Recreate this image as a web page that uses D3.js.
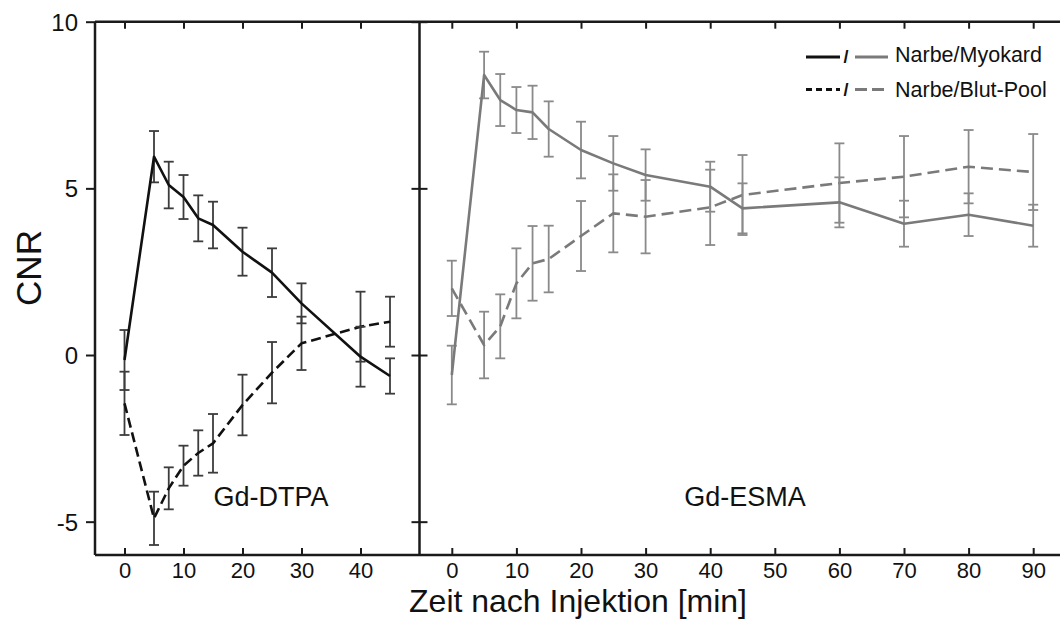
<!DOCTYPE html>
<html>
<head>
<meta charset="utf-8">
<script src="https://cdn.jsdelivr.net/npm/d3@7"></script>
<style>
  body { margin: 0; background: #fff; }
  svg { display: block; font-family: "Liberation Sans", Arial, Helvetica, sans-serif; }
  text { fill: #111; }
</style>
</head>
<body>
<svg id="chart" width="1060" height="621"></svg>
<script>
// time points (min)
var timeL = [0, 5, 7.5, 10, 12.5, 15, 20, 25, 30, 40, 45];
var timeR = [0, 5, 7.5, 10, 12.5, 15, 20, 25, 30, 40, 45, 60, 70, 80, 90];

// Gd-DTPA: Narbe/Myokard and Narbe/Blut-Pool (mean, sd)
var dtpaMyo = [-0.15, 5.95, 5.1, 4.74, 4.1, 3.9, 3.1, 2.47, 1.55, -0.05, -0.63];
var dtpaMyoErr = [0.9, 0.77, 0.7, 0.66, 0.69, 0.7, 0.72, 0.73, 0.6, 0.9, 0.53];
var dtpaPool = [-1.45, -4.9, -4.0, -3.32, -2.94, -2.65, -1.5, -0.53, 0.35, 0.85, 1.0];
var dtpaPoolErr = [0.95, 0.8, 0.63, 0.6, 0.68, 0.88, 0.91, 0.92, 0.8, 1.05, 0.75];

// Gd-ESMA
var esmaMyo = [-0.6, 8.4, 7.65, 7.35, 7.28, 6.78, 6.15, 5.75, 5.4, 5.05, 4.4, 4.58, 3.94, 4.21, 3.88];
var esmaMyoErr = [0.88, 0.7, 0.78, 0.69, 0.8, 0.83, 0.85, 0.82, 0.77, 0.75, 0.75, 0.75, 0.69, 0.64, 0.63];
var esmaPool = [2.0, 0.3, 0.86, 2.15, 2.75, 2.88, 3.57, 4.25, 4.15, 4.43, 4.8, 5.16, 5.35, 5.65, 5.49];
var esmaPoolErr = [0.83, 1.0, 0.96, 1.05, 1.12, 1.0, 1.05, 1.17, 1.1, 1.13, 1.2, 1.19, 1.22, 1.1, 1.14];

// ticks
var yTicks = [-5, 0, 5, 10];
var xTicksL = [0, 10, 20, 30, 40];
var xTicksR = [0, 10, 20, 30, 40, 50, 60, 70, 80, 90];

var svg = d3.select("#chart");

var top_ = 21.7, bottom = 555;
var left = 95, mid = 419.5;

var y = d3.scaleLinear().domain([-6, 10]).range([bottom, top_]);
var xL = d3.scaleLinear().domain([-5, 50]).range([left, mid]);
var xR = d3.scaleLinear().domain([-5, 95]).range([mid, mid + 646]);

var axisColor = "#1a1a1a";

// zip helper
const zip = (xs, ys, es) => xs.map((t, i) => ({t: t, v: ys[i], e: es[i]}));

// draw one series: error bars + line
function drawSeries(xs, pts, color, barColor, dash) {
    var g = svg.append("g");
    var bars = g.selectAll("g.bar").data(pts).join("g").attr("class", "bar")
        .attr("stroke", barColor).attr("stroke-width", 1.8);
    bars.append("line")
        .attr("x1", d => xs(d.t)).attr("x2", d => xs(d.t))
        .attr("y1", d => y(d.v - d.e)).attr("y2", d => y(d.v + d.e));
    bars.append("line")
        .attr("x1", d => xs(d.t) - 5).attr("x2", d => xs(d.t) + 5)
        .attr("y1", d => y(d.v + d.e)).attr("y2", d => y(d.v + d.e));
    bars.append("line")
        .attr("x1", d => xs(d.t) - 5).attr("x2", d => xs(d.t) + 5)
        .attr("y1", d => y(d.v - d.e)).attr("y2", d => y(d.v - d.e));

    var line = d3.line().x(d => xs(d.t)).y(d => y(d.v));
    g.append("path")
        .datum(pts)
        .attr("d", line)
        .attr("fill", "none")
        .attr("stroke", color)
        .attr("stroke-width", 2.6)
        .attr("stroke-linejoin", "round")
        .attr("stroke-dasharray", dash);
}

drawSeries(xL, zip(timeL, dtpaPool, dtpaPoolErr), "#111", "#3c3c3c", "10,5");
drawSeries(xL, zip(timeL, dtpaMyo, dtpaMyoErr), "#111", "#3c3c3c", null);
drawSeries(xR, zip(timeR, esmaPool, esmaPoolErr), "#7a7a7a", "#8a8a8a", "12,6");
drawSeries(xR, zip(timeR, esmaMyo, esmaMyoErr), "#7a7a7a", "#8a8a8a", null);

// frame
var frame = svg.append("g").attr("stroke", axisColor).attr("stroke-width", 2.5);
frame.append("line").attr("x1", left).attr("x2", 1060).attr("y1", top_).attr("y2", top_);
frame.append("line").attr("x1", left).attr("x2", 1060).attr("y1", bottom).attr("y2", bottom);
frame.append("line").attr("x1", left).attr("x2", left).attr("y1", top_).attr("y2", bottom);
frame.append("line").attr("x1", mid).attr("x2", mid).attr("y1", top_).attr("y2", bottom);

function styleAxis(g, size) {
    g.select(".domain").remove();
    g.selectAll(".tick line").attr("stroke", axisColor).attr("stroke-width", 2);
    g.selectAll(".tick text").attr("fill", "#111").style("font-size", size + "px");
}

// plain hyphen for negatives, like the original
const fmt = d => String(d);

// y axis (outward ticks, labels)
svg.append("g").attr("transform", `translate(${left},0)`)
    .call(d3.axisLeft(y).tickValues(yTicks).tickSize(9).tickPadding(8).tickFormat(fmt))
    .call(g => styleAxis(g, 24))
    .call(g => g.selectAll(".tick text").attr("dy", "0.36em"));

// divider ticks on both sides
svg.append("g").attr("transform", `translate(${mid},0)`)
    .call(d3.axisLeft(y).tickValues(yTicks).tickSize(8).tickFormat(""))
    .call(g => styleAxis(g, 10));
svg.append("g").attr("transform", `translate(${mid},0)`)
    .call(d3.axisRight(y).tickValues(yTicks).tickSize(8).tickFormat(""))
    .call(g => styleAxis(g, 10));

// bottom axes (inward ticks, labels below)
[[xL, xTicksL], [xR, xTicksR]].forEach(function (p) {
    svg.append("g").attr("transform", `translate(0,${bottom})`)
        .call(d3.axisBottom(p[0]).tickValues(p[1]).tickSizeInner(-7).tickSizeOuter(0).tickPadding(7).tickFormat(fmt))
        .call(g => styleAxis(g, 22));
    svg.append("g").attr("transform", `translate(0,${top_})`)
        .call(d3.axisTop(p[0]).tickValues(p[1]).tickSizeInner(-7).tickSizeOuter(0).tickFormat(""))
        .call(g => styleAxis(g, 10));
});

// axis titles
svg.append("text")
    .attr("x", 578).attr("y", 612)
    .attr("text-anchor", "middle")
    .style("font-size", "32px")
    .text("Zeit nach Injektion [min]");

svg.append("text")
    .attr("transform", "translate(41,268) rotate(-90)")
    .attr("text-anchor", "middle")
    .style("font-size", "35px")
    .text("CNR");

// panel labels
svg.append("text").attr("x", 271).attr("y", 506).attr("text-anchor", "middle")
    .style("font-size", "27px").text("Gd-DTPA");
svg.append("text").attr("x", 745).attr("y", 506).attr("text-anchor", "middle")
    .style("font-size", "27px").text("Gd-ESMA");

// legend
var legendItems = ["Narbe/Myokard", "Narbe/Blut-Pool"];
var legendDash = [null, "6,4"];
var legendDashGray = [null, "12,5"];
var legend = svg.append("g");
legendItems.forEach(function (name, i) {
    var ly = 57 + i * 32.5;
    legend.append("line").attr("x1", 806).attr("x2", 840).attr("y1", ly).attr("y2", ly)
        .attr("stroke", "#111").attr("stroke-width", 3).attr("stroke-dasharray", legendDash[i]);
    legend.append("text").attr("x", 846).attr("y", ly + 6).attr("text-anchor", "middle")
        .style("font-size", "18px").style("font-weight", "bold").text("/");
    legend.append("line").attr("x1", 855).attr("x2", 888).attr("y1", ly).attr("y2", ly)
        .attr("stroke", "#7a7a7a").attr("stroke-width", 3).attr("stroke-dasharray", legendDashGray[i]);
    legend.append("text").attr("x", 895).attr("y", ly + 5 + (i ? 2 : 0)).style("font-size", "21.5px").text(name);
});
</script>
</body>
</html>
